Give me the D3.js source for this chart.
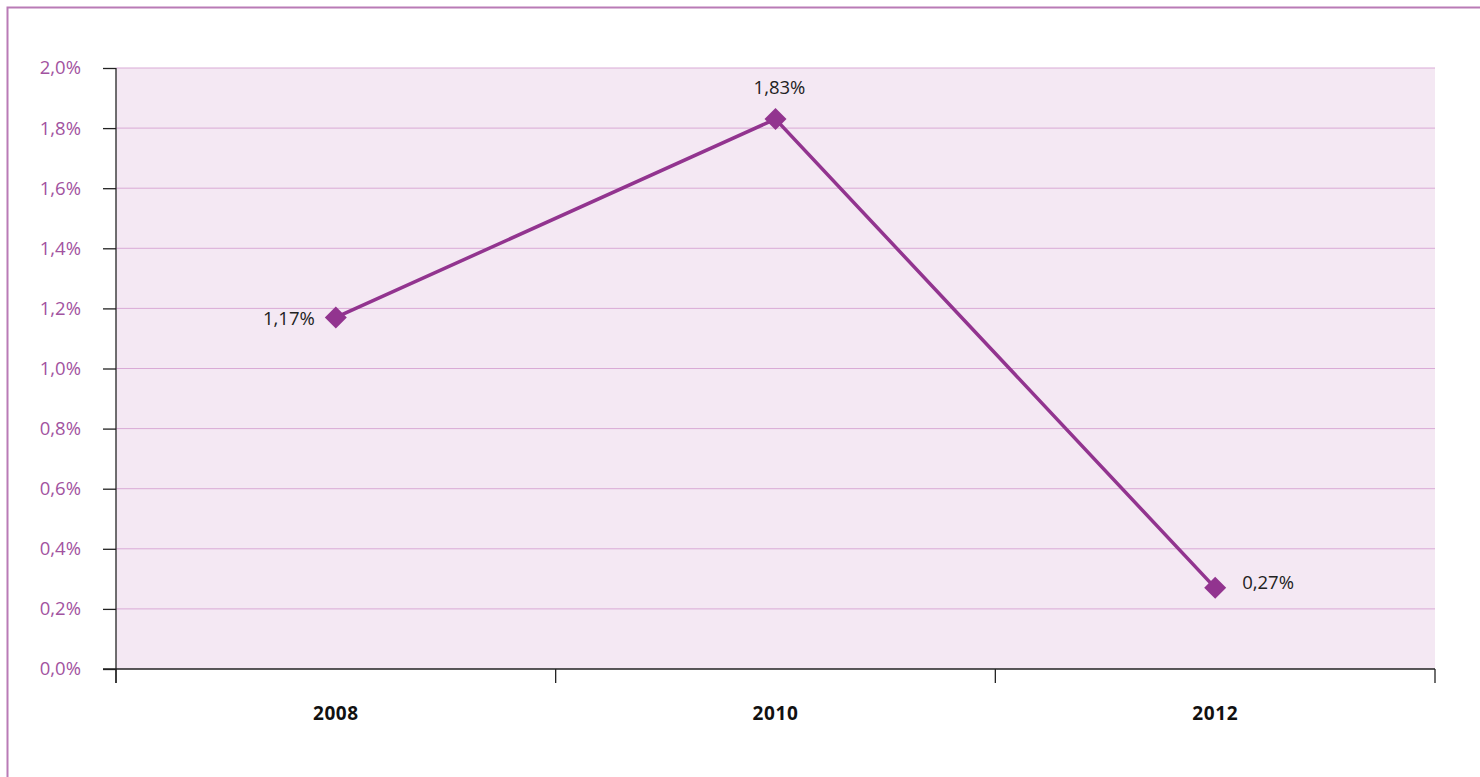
<!DOCTYPE html>
<html><head><meta charset="utf-8">
<script src="https://cdn.jsdelivr.net/npm/d3@7"></script>
<style>
html,body{margin:0;padding:0;background:#fff;}
text{font-family:"Open Sans","Noto Sans",sans-serif;}
</style></head>
<body><svg id="c" width="1480" height="777"></svg>
<script>
const years = ["2008","2010","2012"];
const values = [1.17, 1.83, 0.27];
const valueLabels = ["1,17%","1,83%","0,27%"];
const yTicks = [0,0.2,0.4,0.6,0.8,1.0,1.2,1.4,1.6,1.8,2.0];

const svg = d3.select("#c");
const L=116, R=1435, T=68, B=669;
svg.append("path").attr("d","M7.5,777 L7.5,7.5 L1480,7.5").attr("fill","none").attr("stroke","#b97bb6").attr("stroke-width",2);

const x = d3.scaleBand().domain(years).range([L,R]).padding(0);
const y = d3.scaleLinear().domain([0,2]).range([B,T]);

svg.append("rect").attr("x",L).attr("y",T).attr("width",R-L).attr("height",B-T).attr("fill","#f4e8f3");

svg.append("g").selectAll("line").data(yTicks.filter(d=>d>0)).join("line")
  .attr("x1",L).attr("x2",R).attr("y1",d=>y(d)).attr("y2",d=>y(d))
  .attr("stroke","#d9aad6").attr("stroke-width",1);

const ya = svg.append("g").attr("transform",`translate(${L},0)`)
  .call(d3.axisLeft(y).tickValues(yTicks).tickSize(13).tickPadding(22).tickFormat(d=>d3.format(".1f")(d).replace(".",",")+"%"));
ya.select(".domain").attr("stroke","#404040").attr("stroke-width",1.5).attr("d",`M0,${T}V${B+14}`);
ya.selectAll(".tick line").attr("stroke","#222").attr("stroke-width",1.3);
ya.selectAll(".tick text").attr("fill","#a2539f").attr("font-size",18.5).attr("font-family","'Open Sans','Noto Sans',sans-serif");

const xa = svg.append("g").attr("transform",`translate(0,${B})`)
  .call(d3.axisBottom(x).tickSize(0).tickPadding(38));
xa.select(".domain").attr("stroke","#222").attr("stroke-width",1.3).attr("d",`M${L-13},0H${R}`);
xa.selectAll(".tick text").attr("fill","#111").attr("font-size",19).attr("font-weight","bold").attr("letter-spacing","0.6px").attr("font-family","'Open Sans','Noto Sans',sans-serif");
const bounds = years.slice(1).map(d=>x(d)).concat([L,R]);
svg.append("g").selectAll("line").data(bounds).join("line")
  .attr("x1",d=>d).attr("x2",d=>d).attr("y1",B).attr("y2",B+14)
  .attr("stroke","#222").attr("stroke-width",1.3);

const cx = d=>x(d)+x.bandwidth()/2;
const line = d3.line().x((d,i)=>cx(years[i])).y(d=>y(d));
svg.append("path").datum(values).attr("d",line).attr("fill","none").attr("stroke","#92348f").attr("stroke-width",3.5);

svg.append("g").selectAll("path").data(values).join("path")
  .attr("transform",(d,i)=>`translate(${cx(years[i])},${y(d)})`)
  .attr("d","M0,-11L11,0L0,11L-11,0Z").attr("fill","#92348f");

const offs = [{dx:-21,dy:8,a:"end"},{dx:4,dy:-25,a:"middle"},{dx:27,dy:1,a:"start"}];
svg.append("g").selectAll("text").data(values).join("text")
  .attr("x",(d,i)=>cx(years[i])+offs[i].dx).attr("y",(d,i)=>y(d)+offs[i].dy)
  .attr("text-anchor",(d,i)=>offs[i].a).attr("font-size",18.5).attr("fill","#222")
  .text((d,i)=>valueLabels[i]);
</script></body></html>
